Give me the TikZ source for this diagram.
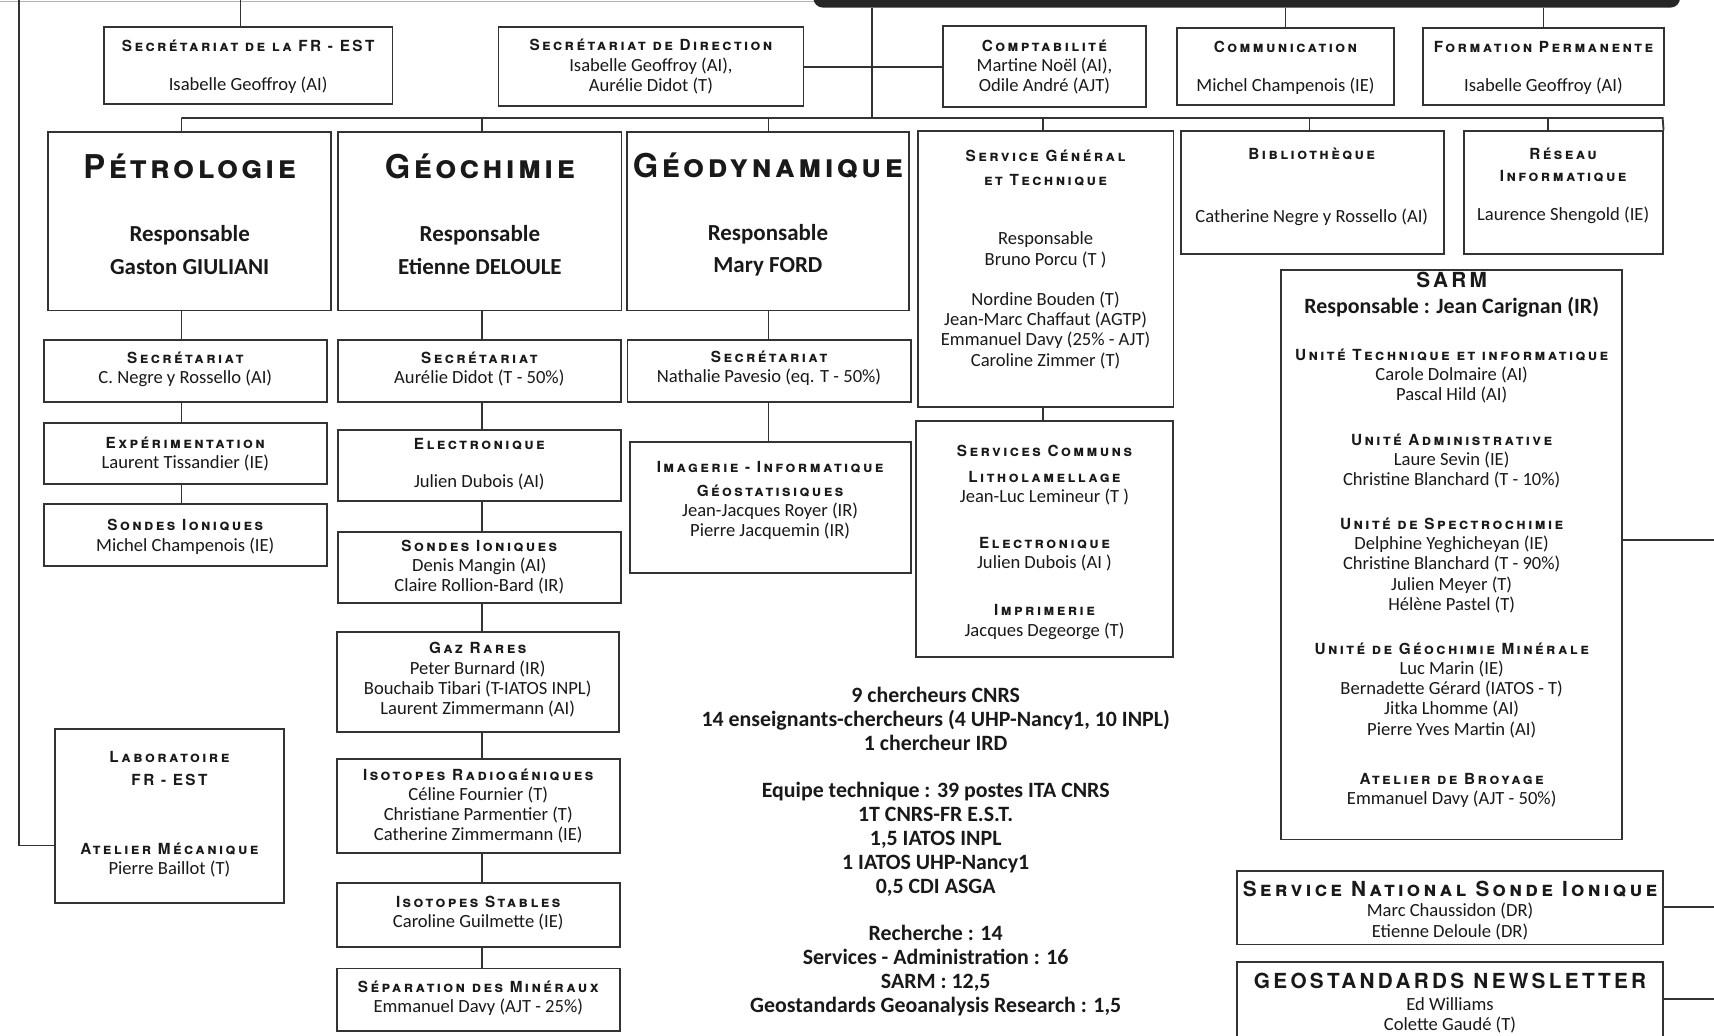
\documentclass[tikz,border=0pt]{standalone}
\usepackage{fontspec}
\setmainfont{Carlito}
\newfontfamily\hdfont[Letters=SmallCaps,LetterSpace=16]{TeX Gyre Heros}
\newfontfamily\deptfont[Letters=SmallCaps,LetterSpace=10]{TeX Gyre Heros}
\newcommand{\hd}[1]{{\hdfont\bfseries\fontsize{14}{18.5}\selectfont #1}}
\newcommand{\dept}[1]{{\deptfont\bfseries\fontsize{30}{30}\selectfont #1}}
\newcommand{\unit}[1]{{\hdfont\bfseries\fontsize{19}{18.5}\selectfont #1}}
\tikzset{
  box/.style={draw=black!80, line width=1.7pt, inner sep=0pt},
  txt/.style={align=center, inner sep=0pt, text=black!90, font=\fontsize{17}{18.5}\selectfont},
  big/.style={txt, font=\bfseries\fontsize{21}{30}\selectfont},
  wire/.style={draw=black!80, line width=1.7pt},
}

\begin{document}
\begin{tikzpicture}[x=1pt,y=-1pt]
    \useasboundingbox (0,0) rectangle (1568,947);
    \clip (0,0) rectangle (1568,947);
    \fill[white] (0,0) rectangle (1568,947);

    \node[fill=black!85, rounded corners=9pt, minimum width=793pt, minimum height=40pt, inner sep=0pt] (dir) at (1140.5,-13) {};

    \node[box, minimum width=264pt, minimum height=70pt] (frest) at (227,60) {};
    \node[box, minimum width=279pt, minimum height=72pt] (secdir) at (595.5,61) {};
    \node[box, minimum width=185pt, minimum height=74pt] (compta) at (955.5,61) {};
    \node[box, minimum width=198pt, minimum height=70pt] (comm) at (1176,61) {};
    \node[box, minimum width=220pt, minimum height=70pt] (formp) at (1412,61) {};

    \node[box, minimum width=259pt, minimum height=163pt] (petro) at (173.5,202.5) {};
    \node[box, minimum width=259pt, minimum height=163pt] (geochim) at (439,202.5) {};
    \node[box, minimum width=258pt, minimum height=163pt] (geodyn) at (702.5,202.5) {};
    \node[box, minimum width=234pt, minimum height=252pt] (servgen) at (956.5,246) {};
    \node[box, minimum width=241pt, minimum height=113pt] (biblio) at (1200.5,176) {};
    \node[box, minimum width=182pt, minimum height=112pt] (reseau) at (1430,176) {};

    \node[box, minimum width=259pt, minimum height=57pt] (petsec) at (169.5,339.5) {};
    \node[box, minimum width=259pt, minimum height=56pt] (petexp) at (169.5,415) {};
    \node[box, minimum width=259pt, minimum height=57pt] (petsond) at (169.5,489.5) {};

    \node[box, minimum width=259pt, minimum height=57pt] (gsec) at (438.5,339.5) {};
    \node[box, minimum width=259pt, minimum height=65pt] (gelec) at (438.5,425.5) {};
    \node[box, minimum width=259pt, minimum height=65pt] (gsond) at (438.5,519.5) {};
    \node[box, minimum width=258pt, minimum height=92pt] (ggaz) at (437,624) {};
    \node[box, minimum width=259pt, minimum height=86pt] (giso) at (437.5,737) {};
    \node[box, minimum width=259pt, minimum height=58pt] (gstab) at (437.5,837) {};
    \node[box, minimum width=259pt, minimum height=57pt] (gsep) at (437.5,914.5) {};

    \node[box, minimum width=259pt, minimum height=57pt] (gdsec) at (703.5,339.5) {};
    \node[box, minimum width=257pt, minimum height=120pt] (gdimg) at (704.5,464) {};

    \node[box, minimum width=235pt, minimum height=216pt] (scomm) at (955.5,493) {};
    \node[box, minimum width=312pt, minimum height=521pt] (sarm) at (1328,507.5) {};
    \node[box, minimum width=389pt, minimum height=67pt] (sni) at (1326.5,830.5) {};
    \node[box, minimum width=389pt, minimum height=80pt] (geost) at (1326.5,920) {};
    \node[box, minimum width=210pt, minimum height=159pt] (labo) at (155,746.5) {};

    \node[txt] (frest-t) at (227,61) {\hd{Secrétariat de la FR - EST}\\[17.5pt] Isabelle Geoffroy (AI)};
    \node[txt] (secdir-t) at (595.5,61) {\hd{Secrétariat de Direction}\\ Isabelle Geoffroy (AI),\\ Aurélie Didot (T)};
    \node[txt] (compta-t) at (955.5,61.5) {\hd{Comptabilité}\\ Martine Noël (AI),\\ Odile André (AJT)};
    \node[txt] (comm-t) at (1176,62) {\hd{Communication}\\[17.5pt] Michel Champenois (IE)};
    \node[txt] (formp-t) at (1412,62) {\hd{Formation Permanente}\\[17.5pt] Isabelle Geoffroy (AI)};

    \node[big] (petro-t) at (173.5,196) {\dept{Pétrologie}\\[27.5pt] Responsable\\ Gaston GIULIANI};
    \node[big] (geochim-t) at (439,196) {\dept{Géochimie}\\[27.5pt] Responsable\\ Etienne DELOULE};
    \node[big] (geodyn-t) at (702.5,196) {\dept{Géodynamique}\\[27.5pt] Responsable\\[-1pt] Mary FORD};
    \node[txt] (servgen-t) at (956.5,237) {\hd{Service Général}\\[3.5pt] \hd{et Technique}\\[35.5pt] Responsable\\[1.5pt] Bruno Porcu (T )\\[17.5pt] Nordine Bouden (T)\\ Jean-Marc Chaffaut (AGTP)\\ Emmanuel Davy (25\% - AJT)\\ Caroline Zimmer (T)};
    \node[txt] (biblio-t) at (1200,171) {\hd{Bibliothèque}\\[38.5pt] Catherine Negre y Rossello (AI)};
    \node[txt] (reseau-t) at (1430,170) {\hd{Réseau}\\[1.5pt] \hd{Informatique}\\[16.5pt] Laurence Shengold (IE)};

    \node[txt] (petsec-t) at (169.5,338) {\hd{Secrétariat}\\ C. Negre y Rossello (AI)};
    \node[txt] (petexp-t) at (169.5,415.5) {\hd{Expérimentation}\\ Laurent Tissandier (IE)};
    \node[txt] (petsond-t) at (169.5,491) {\hd{Sondes Ioniques}\\ Michel Champenois (IE)};

    \node[txt] (gsec-t) at (438.5,337.5) {\hd{Secrétariat}\\ Aurélie Didot (T - 50\%)};
    \node[txt] (gelec-t) at (438.5,424.5) {\hd{Electronique}\\[16.5pt] Julien Dubois (AI)};
    \node[txt] (gsond-t) at (438.5,519) {\hd{Sondes Ioniques}\\ Denis Mangin (AI)\\ Claire Rollion-Bard (IR)};
    \node[txt] (ggaz-t) at (437,622) {\hd{Gaz Rares}\\ Peter Burnard (IR)\\ Bouchaib Tibari (T-IATOS INPL)\\ Laurent Zimmermann (AI)};
    \node[txt] (giso-t) at (437.5,737.5) {\hd{Isotopes Radiogéniques}\\ Céline Fournier (T)\\ Christiane Parmentier (T)\\ Catherine Zimmermann (IE)};
    \node[txt] (gstab-t) at (437.5,835) {\hd{Isotopes Stables}\\ Caroline Guilmette (IE)};
    \node[txt] (gsep-t) at (437.5,913) {\hd{Séparation des Minéraux}\\ Emmanuel Davy (AJT - 25\%)};

    \node[txt] (gdsec-t) at (703.5,337) {\hd{Secrétariat}\\ Nathalie Pavesio (eq. T - 50\%)};
    \node[txt] (gdimg-t) at (704.5,458) {\hd{Imagerie - Informatique}\\[3.5pt] \hd{Géostatisiques}\\ Jean-Jacques Royer (IR)\\ Pierre Jacquemin (IR)};

    \node[txt] (scomm-t) at (955.5,496) {\hd{Services Communs}\\[5.5pt] \hd{Litholamellage}\\ Jean-Luc Lemineur (T )\\[23.5pt] \hd{Electronique}\\ Julien Dubois (AI )\\[24.5pt] \hd{Imprimerie}\\ Jacques Degeorge (T)};

    \node[txt] (sarm-t) at (1328,494) {\unit{SARM}\\[4.5pt] {\bfseries\fontsize{20}{18.5}\selectfont Responsable : Jean Carignan (IR)}\\[24.5pt]
        \hd{Unité Technique et informatique}\\ Carole Dolmaire (AI)\\ Pascal Hild (AI)\\[22.5pt]
        \hd{Unité Administrative}\\ Laure Sevin (IE)\\ Christine Blanchard (T - 10\%)\\[21.5pt]
        \hd{Unité de Spectrochimie}\\ Delphine Yeghicheyan (IE)\\ Christine Blanchard (T - 90\%)\\ Julien Meyer (T)\\ Hélène Pastel (T)\\[21.5pt]
        \hd{Unité de Géochimie Minérale}\\ Luc Marin (IE)\\ Bernadette Gérard (IATOS - T)\\ Jitka Lhomme (AI)\\ Pierre Yves Martin (AI)\\[26.5pt]
        \hd{Atelier de Broyage}\\ Emmanuel Davy (AJT - 50\%)};
    \node[txt] (sni-t) at (1326.5,833) {\unit{Service National Sonde Ionique}\\ Marc Chaussidon (DR)\\ Etienne Deloule (DR)};
    \node[txt] (geost-t) at (1326.5,918) {\unit{GEOSTANDARDS NEWSLETTER}\\[1.5pt] Ed Williams\\ Colette Gaudé (T)};
    \node[txt] (labo-t) at (155,745) {\hd{Laboratoire}\\[2.5pt] \hd{FR - EST}\\[44.5pt] \hd{Atelier Mécanique}\\ Pierre Baillot (T)};

    \node[txt, font=\bfseries\fontsize{20}{22}\selectfont] (stats) at (856,779) {9 chercheurs CNRS\\ 14 enseignants-chercheurs (4 UHP-Nancy1, 10 INPL)\\ 1 chercheur IRD\\[21pt]
        Equipe technique : 39 postes ITA CNRS\\ 1T CNRS-FR E.S.T.\\ 1,5 IATOS INPL\\ 1 IATOS UHP-Nancy1\\ 0,5 CDI ASGA\\[21pt]
        Recherche : 14\\ Services - Administration : 16\\ SARM : 12,5\\ Geostandards Geoanalysis Research : 1,5};

    \coordinate (pcol) at (166,0);
    \coordinate (gcol) at (441,0);
    \coordinate (dcol) at (703,0);
    \coordinate (scol) at (954,0);
    \coordinate (bcol) at (1198,0);
    \coordinate (rcol) at (1416,0);
    \coordinate (busL) at (166,108);
    \coordinate (busR) at (1521,108);
    \coordinate (trunk) at (798,108);
    \coordinate (frtop) at (220,0);
    \coordinate (ltop) at (17,0);
    \coordinate (sarmout) at (1568,494);
    \coordinate (sniout) at (1568,830);
    \coordinate (geoout) at (1568,914);

    \draw[gray!60, line width=1pt] (0,1.5) -- (745,1.5);
    \draw[wire] (ltop) |- ([yshift=-27pt]labo.west);
    \draw[wire] (frtop) -- (frtop |- frest.north);
    \draw[wire] (dir.south -| trunk) -- (trunk);
    \draw[wire] (secdir.east) -- (compta.west);
    \draw[wire] (comm.north) -- (comm.north |- dir.south);
    \draw[wire] (formp.north) -- (formp.north |- dir.south);

    \draw[wire] (busL) -- (busR) -- (reseau.north east);
    \draw[wire] (busL) -- (pcol |- petro.north);
    \draw[wire] (gcol |- busL) -- (gcol |- geochim.north);
    \draw[wire] (dcol |- busL) -- (dcol |- geodyn.north);
    \draw[wire] (scol |- busL) -- (scol |- servgen.north);
    \draw[wire] (bcol |- busL) -- (bcol |- biblio.north);
    \draw[wire] (rcol |- busL) -- (rcol |- reseau.north);

    \draw[wire] (pcol |- petro.south) -- (pcol |- petsec.north);
    \draw[wire] (pcol |- petsec.south) -- (pcol |- petexp.north);
    \draw[wire] (pcol |- petexp.south) -- (pcol |- petsond.north);

    \draw[wire] (gcol |- geochim.south) -- (gcol |- gsec.north);
    \draw[wire] (gcol |- gsec.south) -- (gcol |- gelec.north);
    \draw[wire] (gcol |- gelec.south) -- (gcol |- gsond.north);
    \draw[wire] (gcol |- gsond.south) -- (gcol |- ggaz.north);
    \draw[wire] (gcol |- ggaz.south) -- (gcol |- giso.north);
    \draw[wire] (gcol |- giso.south) -- (gcol |- gstab.north);
    \draw[wire] (gcol |- gstab.south) -- (gcol |- gsep.north);

    \draw[wire] (dcol |- geodyn.south) -- (dcol |- gdsec.north);
    \draw[wire] (dcol |- gdsec.south) -- (dcol |- gdimg.north);
    \draw[wire] (scol |- servgen.south) -- (scol |- scomm.north);

    \draw[wire] (sarmout -| sarm.east) -- (sarmout);
    \draw[wire] (sniout -| sni.east) -- (sniout);
    \draw[wire] (geoout -| geost.east) -- (geoout);
\end{tikzpicture}
\end{document}
